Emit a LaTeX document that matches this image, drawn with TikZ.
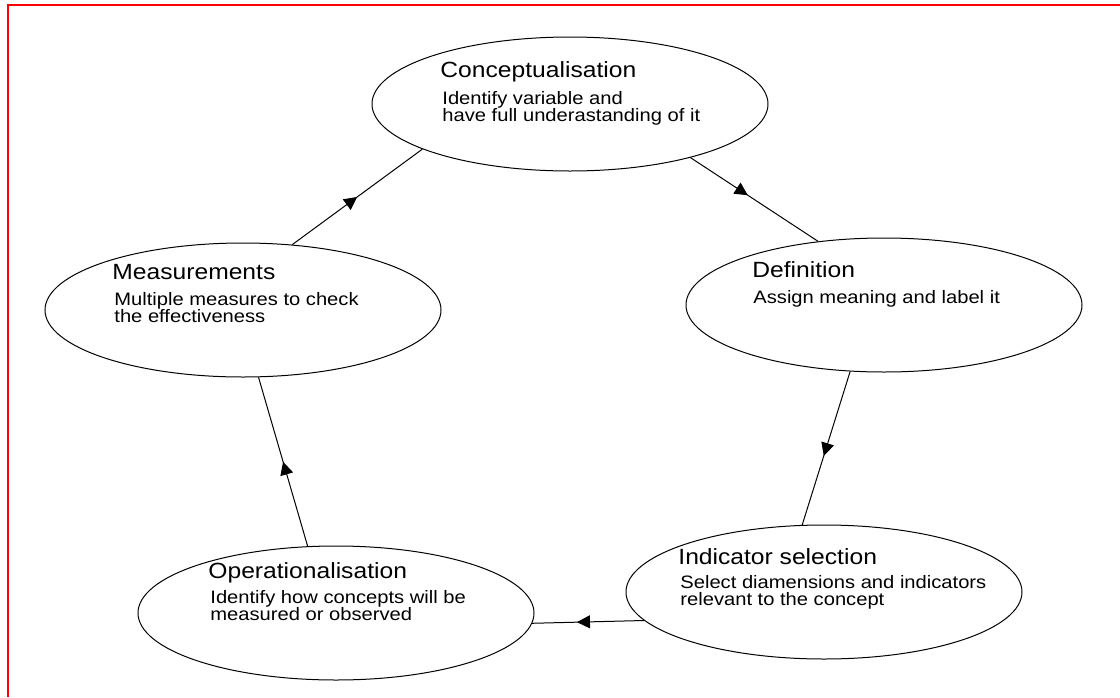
\documentclass[tikz,border=0pt]{standalone}
\usepackage{fontspec}
\setmainfont{Liberation Sans}
\newfontfamily\diagfont[FakeStretch=1.12]{Liberation Sans}
\usetikzlibrary{shapes.geometric,arrows.meta,decorations.markings}

\tikzset{
    stage/.style={ellipse, draw, line width=0.5pt, minimum width=198pt, minimum height=67pt, inner sep=0pt},
    stagetitle/.style={anchor=base west, inner sep=0pt, font=\diagfont\fontsize{11}{13}\selectfont},
    stagetext/.style={anchor=base west, inner sep=0pt, align=left, font=\diagfont\fontsize{9}{8.5}\selectfont},
    flow/.style={line width=0.5pt, postaction={decorate},
        decoration={markings, mark=at position #1 with {\arrow{Triangle[length=6.5pt,width=6.5pt]}}}},
    flow/.default=0.5
}

\begin{document}
\begin{tikzpicture}[x=0.5pt, y=-0.5pt]
    \useasboundingbox (0,0) rectangle (1120,697);
    \draw[red, line width=1pt] (7.5,697) -- (7.5,4.5) -- (1120,4.5);

    % the five stages
    \node[stage] (concept) at (570,104) {};
    \node[stage] (defn) at (884,305) {};
    \node[stage] (indic) at (824,592) {};
    \node[stage] (operat) at (336,613) {};
    \node[stage] (meas) at (243,310) {};

    % base of a two-line text is its last line
    \node[stagetitle] (conceptT) at (440,77.5) {Conceptualisation};
    \node[stagetext] (conceptB) at (442,121.5) {Identify variable and\\have full underastanding of it};
    \node[stagetitle] (defnT) at (752,277.5) {Definition};
    \node[stagetext] (defnB) at (753,303.5) {Assign meaning and label it};
    \node[stagetitle] (indicT) at (678,564.5) {Indicator selection};
    \node[stagetext] (indicB) at (680,605.5) {Select diamensions and indicators\\relevant to the concept};
    \node[stagetitle] (operatT) at (208,578.5) {Operationalisation};
    \node[stagetext] (operatB) at (210,620.5) {Identify how concepts will be\\measured or observed};
    \node[stagetitle] (measT) at (112,279.5) {Measurements};
    \node[stagetext] (measB) at (114,322.5) {Multiple measures to check\\the effectiveness};

    % the cycle
    \draw[flow=0.45] (concept.-24) -- (defn.136);
    \draw[flow=0.55] (defn.-117) -- (indic.108);
    \draw[flow=0.6] (indic.-171) -- (operat.-3);
    \draw[flow] (operat.113) -- (meas.-77);
    \draw[flow] (meas.53) -- (concept.-163);
\end{tikzpicture}
\end{document}
